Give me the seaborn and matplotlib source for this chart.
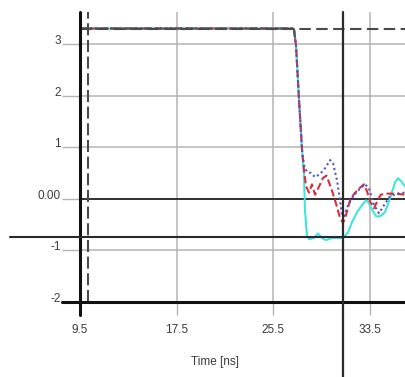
import numpy as np
import pandas as pd
import matplotlib
matplotlib.use("Agg")
import matplotlib.pyplot as plt
import seaborn as sns
from matplotlib.lines import Line2D

# Waveform samples (time in ns, amplitude in V)
t_cyan = [9.5, 27.10, 27.21, 27.38, 27.63, 27.88, 28.04, 28.12, 28.29, 28.46, 28.87,
          29.20, 29.53, 29.86, 30.36, 30.86, 31.27, 31.69, 32.02, 32.43, 32.84,
          33.18, 33.34, 33.67, 34.00, 34.33, 34.75, 35.16, 35.58, 35.83, 36.16, 36.40]
v_cyan = [3.30, 3.30, 3.28, 2.97, 1.91, 0.94, 0.46, -0.22, -0.72, -0.78, -0.76,
          -0.67, -0.76, -0.80, -0.76, -0.76, -0.76, -0.65, -0.45, -0.26, -0.12,
          -0.03, -0.06, -0.20, -0.34, -0.34, -0.26, 0.01, 0.32, 0.40, 0.32, 0.24]

t_red = [9.5, 27.10, 27.21, 27.38, 27.63, 27.88, 28.04, 28.21, 28.46, 28.70, 28.95,
         29.25, 29.60, 29.90, 30.30, 30.70, 31.00, 31.27, 31.50, 31.85, 32.20,
         32.60, 33.00, 33.25, 33.50, 33.84, 34.10, 34.40, 34.80, 35.50, 36.40]
v_red = [3.30, 3.30, 3.28, 2.97, 1.91, 0.94, 0.55, 0.24, 0.12, 0.28, 0.08,
         0.22, 0.40, 0.45, 0.20, -0.10, -0.35, -0.47, -0.33, -0.03, 0.10,
         0.20, 0.28, 0.15, -0.05, -0.18, -0.05, 0.08, 0.10, 0.10, 0.08]

t_blue = [9.5, 27.10, 27.21, 27.38, 27.63, 27.88, 28.04, 28.29, 28.62, 28.95, 29.37,
          29.78, 30.20, 30.44, 30.77, 31.02, 31.19, 31.35, 31.69, 32.18, 32.68,
          33.10, 33.42, 33.84, 34.25, 34.67, 35.16, 35.74, 36.40]
v_blue = [3.30, 3.30, 3.28, 2.97, 1.91, 0.94, 0.65, 0.52, 0.50, 0.42, 0.48,
          0.59, 0.75, 0.69, 0.36, -0.03, -0.32, -0.34, -0.12, 0.07, 0.20,
          0.28, 0.20, -0.12, -0.28, -0.12, 0.05, 0.10, 0.12]

# input level before the edge (dark trace)
t_input = [9.5, 27.10, 27.21, 27.30]
v_input = [3.30, 3.30, 3.28, 3.12]

x_ticks = [9.5, 17.5, 25.5, 33.5]
x_tick_labels = ["9.5", "17.5", "25.5", "33.5"]
y_ticks = [-2, -1, 0, 1, 2, 3]
y_tick_labels = ["-2", "-1", "0.00", "1", "2", "3"]

supply_level = 3.3      # dashed reference level
trigger_time = 10.16    # dashed vertical marker
cursor_time = 31.27     # vertical cursor
cursor_level = -0.745   # horizontal cursor

df = pd.concat([
    pd.DataFrame({"t": t_cyan, "v": v_cyan, "trace": "cyan"}),
    pd.DataFrame({"t": t_red, "v": v_red, "trace": "red"}),
    pd.DataFrame({"t": t_blue, "v": v_blue, "trace": "blue"}),
    pd.DataFrame({"t": t_input, "v": v_input, "trace": "input"}),
], ignore_index=True)

sns.set_style("white")
plt.rcParams["font.family"] = ["Liberation Sans", "DejaVu Sans"]

fig = plt.figure(figsize=(4.05, 3.77), dpi=100)
ax = fig.add_axes([80 / 405, 75 / 377, 325 / 405, 290 / 377])

grid_col = "#b4b4b4"
for v in [-1, 1, 2, 3]:
    ax.axhline(v, color=grid_col, lw=1.1, zorder=1)
for t in [17.5, 25.5, 33.5]:
    ax.axvline(t, color=grid_col, lw=1.1, zorder=1)
ax.axhline(0, color="#303030", lw=1.4, zorder=1.5)

palette = {"cyan": "#3fe4e0", "red": "#d7303a", "blue": "#5252c4", "input": "#555555"}
dashes = {"cyan": "", "red": (3.5, 1.6), "blue": (1.0, 1.4), "input": (6.0, 1.2)}
sns.lineplot(data=df, x="t", y="v", hue="trace", style="trace",
             palette=palette, dashes=dashes, estimator=None, sort=False,
             lw=1.5, legend=False, ax=ax, zorder=3)

# dashed reference level and marker
ax.axhline(supply_level, color="#4a4a4a", lw=1.5, dashes=(5.5, 2.6), zorder=4)
ax.axvline(trigger_time, color="#4a4a4a", lw=1.5, dashes=(5.8, 2.2), zorder=4)

ax.set_xlim(9.5, 36.4)
ax.set_ylim(-2, 3.62)

for s in ax.spines.values():
    s.set_visible(False)

# heavy axis lines that run past the plot area
ax.add_line(Line2D([0, 0], [-13 / 290, 1], transform=ax.transAxes,
                   color="#111111", lw=2.2, clip_on=False, zorder=5))
ax.add_line(Line2D([-18 / 325, 1], [0, 0], transform=ax.transAxes,
                   color="#111111", lw=2.2, clip_on=False, zorder=5))

# cursors
xfrac = (cursor_time - 9.5) / (36.4 - 9.5)
ax.add_line(Line2D([xfrac, xfrac], [-75 / 290, 1], transform=ax.transAxes,
                   color="#2a2a2a", lw=1.6, clip_on=False, zorder=5))
yfrac = (cursor_level + 2) / 5.62
ax.add_line(Line2D([-70 / 325, 1], [yfrac, yfrac], transform=ax.transAxes,
                   color="#2a2a2a", lw=1.5, clip_on=False, zorder=5))

ax.set_xticks(x_ticks)
ax.set_xticklabels(x_tick_labels)
ax.set_yticks(y_ticks)
ax.set_yticklabels(y_tick_labels)
ax.tick_params(axis="x", direction="out", length=9.5, width=1.0, color=grid_col,
               pad=6, labelsize=8.5, labelcolor="#3a3a3a", bottom=True)
ax.tick_params(axis="y", direction="out", length=13, width=1.0, color=grid_col,
               pad=1, labelsize=8.5, labelcolor="#3a3a3a", left=True)
for lab in ax.get_yticklabels():
    lab.set_verticalalignment("baseline")

ax.set_xlabel("Time [ns]", fontsize=8.5, color="#3a3a3a")
ax.xaxis.set_label_coords(0.415, -0.185)
ax.xaxis.label.set_verticalalignment("top")
ax.set_ylabel("")

fig.savefig("out.png", dpi=100)
